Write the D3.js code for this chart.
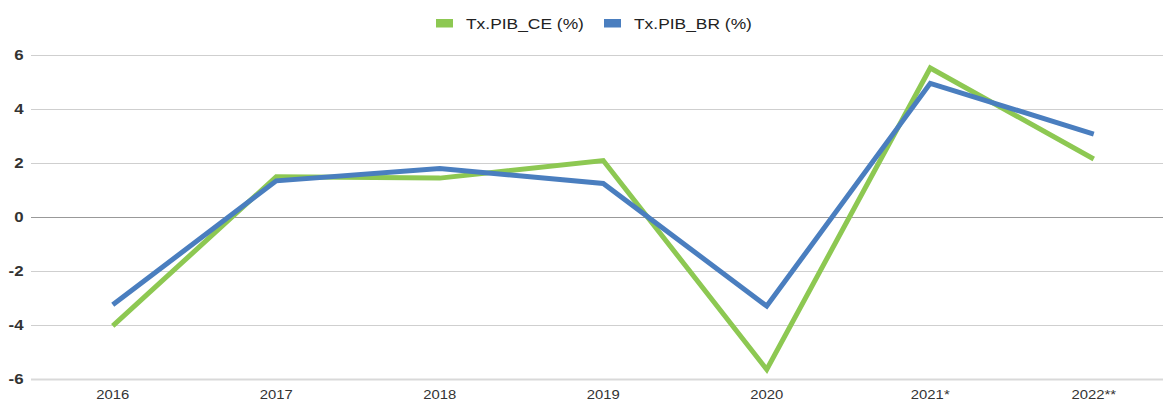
<!DOCTYPE html>
<html><head><meta charset="utf-8">
<script src="https://cdn.jsdelivr.net/npm/d3@7"></script>
<style>body{margin:0;background:#fff;}svg{display:block;font-family:"Liberation Sans",Arial,sans-serif;}</style>
</head><body>
<svg id="c" width="1163" height="401"></svg>
<script>
const categories = ["2016","2017","2018","2019","2020","2021*","2022**"];
const seriesNames = ["Tx.PIB_CE (%)","Tx.PIB_BR (%)"];
const ceValues = [-4.03, 1.49, 1.44, 2.09, -5.65, 5.52, 2.15];
const brValues = [-3.25, 1.34, 1.80, 1.24, -3.3, 4.95, 3.07];
const yTicks = [-6,-4,-2,0,2,4,6];
const colors = ["#8DC852","#4A7EBF"];

const svg = d3.select("#c");
const left = 31, bandW = 163.5, sx = 1.16;
const x = d3.scalePoint().domain(categories).range([left + bandW/2, left + bandW*6.5]);
const y = d3.scaleLinear().domain([-6,6]).range([379,55]);

// gridlines
svg.append("g").selectAll("line").data(yTicks).join("line")
  .attr("x1", left).attr("x2", 1163)
  .attr("y1", d=>Math.round(y(d))+0.5).attr("y2", d=>Math.round(y(d))+0.5)
  .attr("stroke", d=> d===0 ? "#999" : (d===-6 ? "#d9d9d9" : "#cfcfcf")).attr("stroke-width", d=> d===-6 ? 2 : 1);

// y labels
svg.append("g").selectAll("text").data(yTicks).join("text")
  .attr("transform", d=>`translate(23.5,${y(d)}) scale(${sx},1)`).attr("dy","0.36em")
  .attr("text-anchor","end").attr("font-size",14.5).attr("font-weight","bold").attr("fill","#333")
  .text(d=>d);

// x labels
svg.append("g").selectAll("text").data(categories).join("text")
  .attr("transform", d=>`translate(${x(d)},394.5) scale(${sx},1)`).attr("dy","0.36em")
  .attr("text-anchor","middle").attr("font-size",12.8).attr("fill","#333")
  .text(d=>d);

const line = d3.line().x((d,i)=>x(categories[i])).y(d=>y(d));
[ceValues, brValues].forEach((vals,k)=>{
  svg.append("path").datum(vals).attr("d", line)
    .attr("fill","none").attr("stroke", colors[k]).attr("stroke-width",5)
    .attr("stroke-linejoin","miter");
});

// legend
const legendX = [436, 604];
seriesNames.forEach((n,k)=>{
  svg.append("rect").attr("x", legendX[k]).attr("y", 19).attr("width",17).attr("height",8.5).attr("fill", colors[k]);
  svg.append("text").attr("transform", `translate(${legendX[k]+30},29.3) scale(1.13,1)`)
    .attr("font-size",15.4).attr("fill","#222").text(n);
});
</script>
</body></html>
